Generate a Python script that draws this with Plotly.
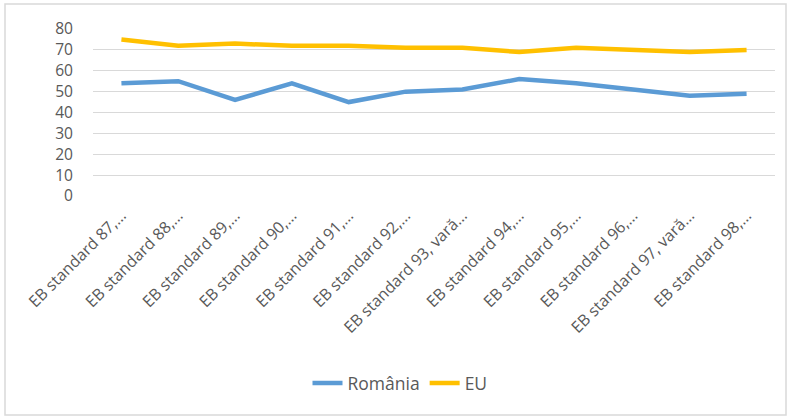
import plotly.graph_objects as go

categories = ["EB standard 87,…", "EB standard 88,…", "EB standard 89,…", "EB standard 90,…",
              "EB standard 91,…", "EB standard 92,…", "EB standard 93, vară…", "EB standard 94,…",
              "EB standard 95,…", "EB standard 96,…", "EB standard 97, vară…", "EB standard 98,…"]
romania = [54, 55, 46, 54, 45, 50, 51, 56, 54, 51, 48, 49]
eu = [75, 72, 73, 72, 72, 71, 71, 69, 71, 70, 69, 70]
y_ticks = [0, 10, 20, 30, 40, 50, 60, 70, 80]

W, H = 791, 418
L, R, T, B = 93, 16, 29, 222
pw = W - L - R
ph = H - T - B

fig = go.Figure()
fig.add_trace(go.Scatter(x=categories, y=romania, name="România", mode="lines",
                         line=dict(color="#5B9BD5", width=4.5)))
fig.add_trace(go.Scatter(x=categories, y=eu, name="EU", mode="lines",
                         line=dict(color="#FFC000", width=4.5)))

fig.update_layout(
    width=W, height=H,
    margin=dict(l=L, r=R, t=T, b=B, autoexpand=False),
    paper_bgcolor="white", plot_bgcolor="white",
    font=dict(family="Open Sans", color="#595959"),
    showlegend=True,
    legend=dict(orientation="h", x=(400 - L) / pw, xanchor="center", y=(T + ph - 383) / ph,
                yanchor="middle", font=dict(size=17.5, color="#595959"), itemwidth=30,
                tracegroupgap=0),
    xaxis=dict(type="category", range=[-0.5, len(categories) - 0.5], tickangle=-45,
               tickfont=dict(size=16, color="#595959"), showgrid=False, zeroline=False,
               showline=False, ticks="", automargin=False, ticklabelstandoff=6),
    yaxis=dict(range=[0, 80], tickvals=y_ticks, tickfont=dict(size=15.6, color="#595959"),
               gridcolor="#D9D9D9", gridwidth=1.3, zeroline=False, showline=False, ticks="",
               ticklabelstandoff=19, automargin=False),
    shapes=[dict(type="rect", xref="paper", yref="paper",
                 x0=(5 - L) / pw, x1=(786 - L) / pw,
                 y0=(T + ph - 415) / ph, y1=(T + ph - 4) / ph,
                 line=dict(color="#D9D9D9", width=1.5), layer="below")],
)
fig.write_html("out.html", config={"displayModeBar": False},
               post_script="document.body.style.margin='0';document.body.style.overflow='hidden';")
